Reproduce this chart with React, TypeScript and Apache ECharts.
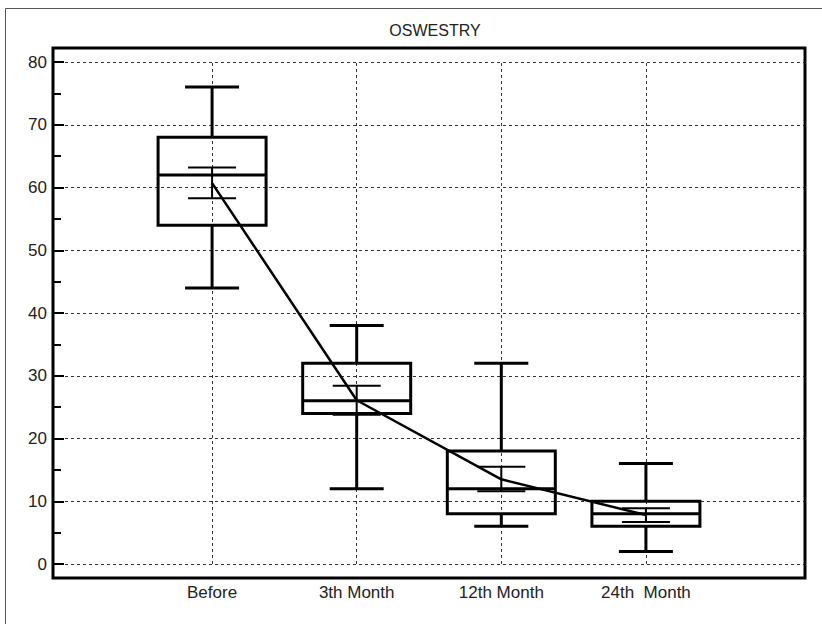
import React, { useEffect, useRef } from "react";
import * as echarts from "echarts";

const TITLE = "OSWESTRY";
const CATEGORIES = ["Before", "3th Month", "12th Month", "24th  Month"];
const POS = [1, 2, 3, 4];
const MIN = [44, 12, 6, 2];
const Q1 = [54, 24, 8, 6];
const MEDIAN = [62, 26, 12, 8];
const Q3 = [68, 32, 18, 10];
const MAX = [76, 38, 32, 16];
const MEAN = [60.7, 26.1, 13.5, 7.8];
const CI_LOW = [58.3, 23.8, 11.6, 6.7];
const CI_HIGH = [63.2, 28.4, 15.5, 8.9];
const Y_TICKS = { min: 0, max: 80, interval: 10 };

const FONT = "'Liberation Sans', Arial, sans-serif";

export default function App() {
  const ref = useRef<HTMLDivElement>(null);
  useEffect(() => {
    if (!ref.current) return;
    const chart = echarts.init(ref.current, null, { renderer: "svg" });
    const boxData = POS.map((p, i) => [p, MIN[i], Q1[i], MEDIAN[i], Q3[i], MAX[i], CI_LOW[i], MEAN[i], CI_HIGH[i]]);
    const BOX_HW = 54;
    const CAP_HW = 27;
    const CI_HW = 24;
    const black = "#000";
    const renderItem = (params: any, api: any) => {
      const x = api.value(0);
      const y = (k: number) => api.coord([x, api.value(k)])[1];
      const cx = api.coord([x, 0])[0];
      const yMin = y(1), yQ1 = y(2), yMed = y(3), yQ3 = y(4), yMax = y(5), yCiL = y(6), yCiH = y(8);
      const thick = { stroke: black, lineWidth: 3, fill: "none" };
      const thin = { stroke: black, lineWidth: 2, fill: "none" };
      const ln = (x1: number, y1: number, x2: number, y2: number, st: any) => ({
        type: "line",
        shape: { x1, y1, x2, y2 },
        style: st,
      });
      return {
        type: "group",
        children: [
          ln(cx, yQ3, cx, yMax, thick),
          ln(cx, yQ1, cx, yMin, thick),
          ln(cx - CAP_HW, yMax, cx + CAP_HW, yMax, thick),
          ln(cx - CAP_HW, yMin, cx + CAP_HW, yMin, thick),
          {
            type: "rect",
            shape: { x: cx - BOX_HW, y: yQ3, width: BOX_HW * 2, height: yQ1 - yQ3 },
            style: thick,
          },
          ln(cx - BOX_HW, yMed, cx + BOX_HW, yMed, thick),
          ln(cx, yCiH, cx, yCiL, thin),
          ln(cx - CI_HW, yCiH, cx + CI_HW, yCiH, thin),
          ln(cx - CI_HW, yCiL, cx + CI_HW, yCiL, thin),
        ],
      };
    };
    const gridDash = { type: [3, 3] as any, color: "#333", width: 1 };
    chart.setOption({
      animation: false,
      backgroundColor: "#fff",
      title: {
        text: TITLE,
        left: 430,
        textAlign: "center",
        top: 17,
        textStyle: { fontFamily: FONT, fontSize: 16, fontWeight: "normal", color: "#222" },
      },
      graphic: [
        {
          type: "rect",
          shape: { x: 5.5, y: 8.5, width: 840, height: 640 },
          style: { fill: "none", stroke: "#555", lineWidth: 1 },
          silent: true,
        },
        {
          type: "rect",
          shape: { x: 53, y: 48, width: 752, height: 530 },
          style: { fill: "none", stroke: black, lineWidth: 3 },
          silent: true,
          z: 100,
        },
      ],
      grid: { left: 53, right: 17, top: 62, bottom: 60 },
      xAxis: {
        type: "value",
        min: -0.1,
        max: 5.1,
        axisLine: { show: false, onZero: false },
        axisTick: { show: false },
        splitLine: { show: false },
        axisLabel: {
          customValues: POS,
          formatter: (v: number) => CATEGORIES[Math.round(v) - 1] ?? "",
          fontFamily: FONT,
          fontSize: 17,
          color: "#222",
          margin: 20,
        },
      },
      yAxis: {
        type: "value",
        min: Y_TICKS.min,
        max: Y_TICKS.max,
        interval: Y_TICKS.interval,
        axisLine: { show: false, onZero: false },
        axisTick: { show: true, inside: true, length: 11, lineStyle: { color: black, width: 2 } },
        minorTick: { show: true, splitNumber: 2, length: 8, lineStyle: { color: black, width: 2 } },
        splitLine: { show: true, lineStyle: gridDash },
        axisLabel: { fontFamily: FONT, fontSize: 17, color: "#222", margin: 6 },
      },
      series: [
        {
          type: "custom",
          renderItem,
          data: boxData,
          encode: { x: 0, y: [1, 2, 3, 4, 5] },
          z: 3,
        },
        {
          type: "line",
          data: POS.map((p, i) => [p, MEAN[i]]),
          symbol: "none",
          lineStyle: { color: black, width: 2.5 },
          z: 4,
          markLine: {
            silent: true,
            symbol: "none",
            label: { show: false },
            lineStyle: gridDash,
            data: POS.map((p) => ({ xAxis: p })),
            z: 1,
          },
        },
      ],
    });
    return () => chart.dispose();
  }, []);
  return (
    <div
      ref={ref}
      style={{ position: "fixed", left: 0, top: 0, width: 822, height: 624, background: "#fff" }}
    />
  );
}
